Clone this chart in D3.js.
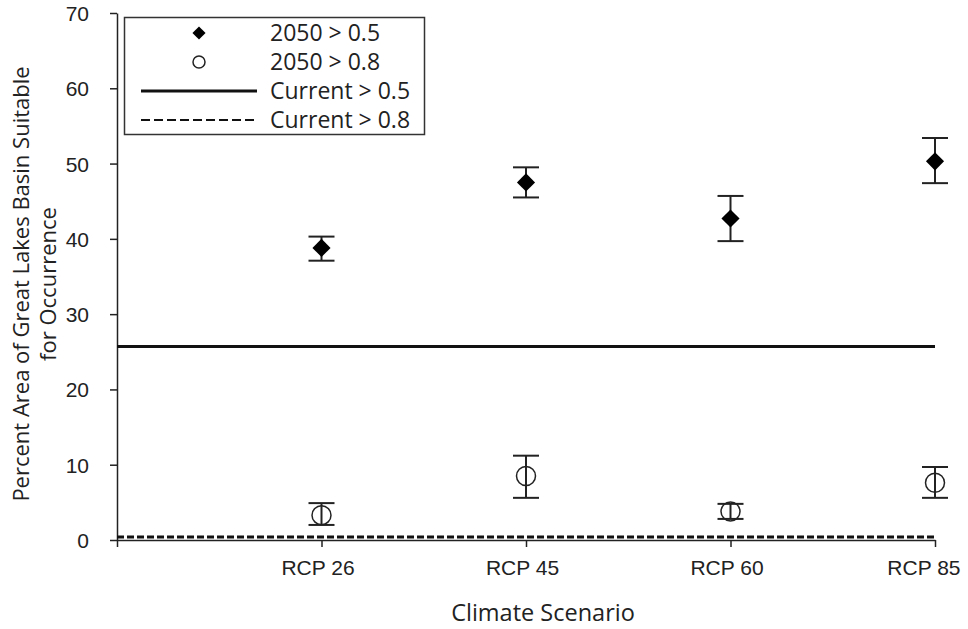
<!DOCTYPE html>
<html>
<head>
<meta charset="utf-8">
<script src="https://cdn.jsdelivr.net/npm/d3@7"></script>
<style>
  body { margin: 0; background: #fff; }
  svg { display: block; font-family: "Open Sans", Lato, sans-serif; }
  .axis path, .axis line { stroke: #222; stroke-width: 1.5; }
  .axis text { font-size: 21px; fill: #222; }
</style>
</head>
<body>
<svg width="968" height="629"></svg>
<script>
// values
const scenarios = ['RCP 26', 'RCP 45', 'RCP 60', 'RCP 85'];
const suit05 = [38.8, 47.5, 42.7, 50.3];
const suit05Lo = [37.1, 45.5, 39.7, 47.4];
const suit05Hi = [40.3, 49.5, 45.7, 53.4];
const suit08 = [3.3, 8.5, 3.8, 7.6];
const suit08Lo = [2.0, 5.6, 2.8, 5.6];
const suit08Hi = [4.9, 11.2, 4.8, 9.7];
const current05 = 25.7;
const current08 = 0.4;
const yTicks = [0, 10, 20, 30, 40, 50, 60, 70];
const legendLabels = ['2050 > 0.5', '2050 > 0.8', 'Current > 0.5', 'Current > 0.8'];

const W = 968;
const svg = d3.select('svg');
const plotLeft = 117, plotRight = 935, plotBottom = 540, plotTop = 13;

// position 0 is an empty slot, scenarios sit at 1..4
const x = d3.scaleLinear().domain([0, scenarios.length]).range([plotLeft, plotRight]);
const y = d3.scaleLinear().domain([0, 70]).range([plotBottom, plotTop]);

const yAxis = svg.append('g')
    .attr('class', 'axis')
    .attr('transform', `translate(${plotLeft},0)`)
    .call(d3.axisLeft(y).tickValues(yTicks).tickSize(7).tickPadding(21).tickSizeOuter(0));
yAxis.selectAll('text').attr('dy', '0.36em');

const xAxis = svg.append('g')
    .attr('class', 'axis')
    .attr('transform', `translate(0,${plotBottom})`)
    .call(d3.axisBottom(x)
        .tickValues(d3.range(0, scenarios.length + 1))
        .tickFormat(i => i == 0 ? '' : scenarios[i - 1])
        .tickSize(7).tickPadding(13).tickSizeOuter(0));
// labels sit a little left of their ticks, the last one kept inside the frame
xAxis.selectAll('.tick text').each(function(d) {
    let t = d3.select(this), w = this.getComputedTextLength();
    let shift = Math.min(-4, W - 8 - (x(d) + w / 2));
    t.attr('dx', shift);
});

// reference lines for current climate
svg.append('line')
    .attr('x1', x(0)).attr('x2', x(4))
    .attr('y1', y(current05)).attr('y2', y(current05))
    .attr('stroke', '#111').attr('stroke-width', 3);
svg.append('line')
    .attr('x1', x(0)).attr('x2', x(4))
    .attr('y1', y(current08)).attr('y2', y(current08))
    .attr('stroke', '#111').attr('stroke-width', 3)
    .attr('stroke-dasharray', '7,3');

/* barras de erro + marcadores */
function errorBars(lo, hi) {
    let g = svg.append('g');
    scenarios.forEach((s, i) => {
        let cx = x(i + 1);
        g.append('line').attr('x1', cx).attr('x2', cx)
            .attr('y1', y(lo[i])).attr('y2', y(hi[i]));
        [lo[i], hi[i]].forEach(v => {
            g.append('line').attr('x1', cx - 13).attr('x2', cx + 13)
                .attr('y1', y(v)).attr('y2', y(v));
        });
    });
    g.selectAll('line').attr('stroke', '#222').attr('stroke-width', 2);
}
errorBars(suit05Lo, suit05Hi);
errorBars(suit08Lo, suit08Hi);

const diamond = d3.symbol().type(d3.symbolDiamond2).size(210);
svg.append('g').selectAll('path')
    .data(suit05)
    .join('path')
    .attr('d', diamond)
    .attr('transform', (d, i) => `translate(${x(i + 1)},${y(d)})`)
    .attr('fill', '#000');

svg.append('g').selectAll('circle')
    .data(suit08)
    .join('circle')
    .attr('cx', (d, i) => x(i + 1))
    .attr('cy', d => y(d))
    .attr('r', 9.5)
    .attr('fill', 'none')
    .attr('stroke', '#222')
    .attr('stroke-width', 1.5);

// legend
const legend = svg.append('g');
legend.append('rect')
    .attr('x', 124.5).attr('y', 17.5).attr('width', 300).attr('height', 117)
    .attr('fill', '#fff').attr('stroke', '#333').attr('stroke-width', 1.5);
const rowY = i => 33 + i * 29;
legend.selectAll('text')
    .data(legendLabels)
    .join('text')
    .attr('x', 270).attr('y', (d, i) => rowY(i))
    .attr('dy', '0.36em')
    .attr('font-size', 23).attr('fill', '#222')
    .text(d => d);
legend.append('path')
    .attr('d', d3.symbol().type(d3.symbolDiamond2).size(110))
    .attr('transform', `translate(199,${rowY(0)})`);
legend.append('circle')
    .attr('cx', 199).attr('cy', rowY(1)).attr('r', 6)
    .attr('fill', 'none').attr('stroke', '#222').attr('stroke-width', 1.5);
legend.append('line')
    .attr('x1', 141).attr('x2', 257).attr('y1', rowY(2)).attr('y2', rowY(2))
    .attr('stroke', '#111').attr('stroke-width', 3);
legend.append('line')
    .attr('x1', 141).attr('x2', 257).attr('y1', rowY(3)).attr('y2', rowY(3))
    .attr('stroke', '#111').attr('stroke-width', 2)
    .attr('stroke-dasharray', '9,4');

// axis titles
svg.append('text')
    .attr('x', 543).attr('y', 621)
    .attr('text-anchor', 'middle')
    .attr('font-size', 23.5).attr('fill', '#222')
    .text('Climate Scenario');

const yTitle = svg.append('text')
    .attr('transform', 'translate(0,284) rotate(-90)')
    .attr('text-anchor', 'middle')
    .attr('font-size', 22).attr('fill', '#222');
yTitle.append('tspan').attr('x', 0).attr('y', 29).text('Percent Area of Great Lakes Basin Suitable');
yTitle.append('tspan').attr('x', 0).attr('y', 56).text('for Occurrence');
</script>
</body>
</html>
